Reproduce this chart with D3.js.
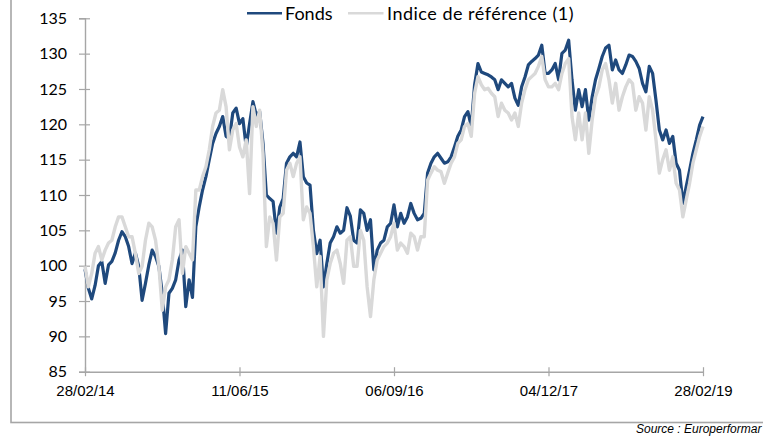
<!DOCTYPE html>
<html>
<head>
<meta charset="utf-8">
<script src="https://cdnjs.cloudflare.com/ajax/libs/d3/7.8.5/d3.min.js"></script>
<style>
    body { margin: 0; background: #fff; }
    svg { display: block; }
</style>
</head>
<body>
<svg width="763" height="438"></svg>
<script>
// values, one point every ~3.4px (about a week)
var fonds = [
    99.5, 96.8, 95.3, 97.2, 100.0, 100.6, 97.5, 100.1, 100.6, 101.8,
    103.6, 104.8, 104.1, 102.7, 100.3, 101.8, 99.9, 95.1, 97.5, 100.1,
    102.2, 101.3, 99.9, 96.1, 90.4, 96.1, 96.8, 98.0, 100.8, 102.2,
    94.2, 98.0, 95.5, 105.5, 108.3, 110.7, 112.6, 115.0, 117.3, 118.7,
    119.7, 121.1, 118.3, 118.0, 121.6, 122.3, 120.1,
    120.8, 116.8, 120.1, 123.2, 121.3, 121.8, 117.3, 110.0, 109.5, 109.1,
    104.6, 108.3, 109.5, 114.5, 115.4, 115.9, 115.4, 117.5, 112.6, 111.7,
    111.4, 105.0, 101.7, 103.6, 97.0, 100.3, 103.2, 104.1, 105.5, 104.6,
    105.0, 108.2, 107.0, 103.6, 103.2, 107.9, 107.4, 105.0, 106.5, 99.4,
    102.2, 103.2, 103.6, 105.5, 106.0, 108.6,
    105.5, 107.4, 106.0, 106.9, 108.8, 107.4, 106.5, 106.7, 107.4, 113.1,
    114.5, 115.4, 115.9, 115.2, 114.5, 114.7, 115.4, 116.8, 118.3, 119.2,
    121.1, 121.8, 119.7, 125.6, 128.6, 127.4, 127.2, 127.0, 126.7, 126.3,
    124.9, 126.3, 125.8, 125.3, 125.8, 123.7, 122.7, 125.3, 126.7, 128.4,
    128.9, 129.3, 129.8, 131.2, 127.2, 127.2,
    127.7, 128.6, 126.3, 130.05, 130.5, 131.9, 126.3, 122.0, 124.9, 122.5,
    124.9, 120.6, 123.9, 126.3, 127.9, 129.6, 130.8, 131.2, 127.7, 129.1,
    127.7, 127.2, 128.4, 129.8, 129.6, 128.9, 127.9, 125.8, 124.6, 128.2,
    127.2, 123.4, 119.2, 117.8, 119.2, 117.3, 118.3, 114.5, 113.5, 108.8,
    111.2, 113.5, 115.9, 117.8, 119.9, 121.1
];

var indice = [
    99.9, 97.0, 98.9, 101.75, 102.7, 100.8, 102.2, 103.2, 103.6, 105.5,
    106.9, 106.9, 105.5, 104.1, 104.1, 101.75, 98.9, 99.9, 103.6, 106.0,
    105.5, 103.6, 99.9, 93.7, 97.0, 98.0, 100.8, 105.5, 106.5, 98.9,
    102.7, 101.75, 100.8, 110.7, 110.7, 112.6, 114.0, 116.4, 119.7, 121.6,
    122.0, 124.9, 122.5, 116.4, 119.2, 120.1, 116.8,
    115.4, 117.8, 110.2, 122.5, 119.7, 122.0, 115.9, 102.7, 106.9, 106.0,
    100.8, 106.9, 107.4, 113.5, 114.5, 112.6, 114.5, 115.4, 106.5, 108.3,
    107.4, 102.7, 97.0, 101.3, 90.0, 98.0, 100.3, 101.75, 102.2, 100.3,
    97.5, 103.6, 104.1, 99.9, 99.9, 105.0, 103.6, 97.0, 92.8, 98.0,
    100.8, 101.75, 102.7, 103.2, 104.1, 106.0,
    102.2, 103.2, 102.7, 101.75, 104.6, 104.1, 102.2, 104.1, 104.1, 112.1,
    113.1, 114.0, 113.5, 113.3, 111.65, 113.1, 114.5, 115.4, 117.3, 117.8,
    119.7, 120.1, 118.3, 124.4, 126.75, 125.6, 124.9, 125.1, 124.4, 123.9,
    121.1, 123.0, 122.0, 121.6, 120.6, 121.6, 119.7, 123.0, 124.9, 126.3,
    126.75, 127.2, 128.2, 129.6, 126.3, 125.3,
    125.3, 125.8, 124.9, 127.2, 128.6, 129.3, 121.1, 117.8, 121.6, 117.8,
    121.6, 115.9, 120.6, 123.9, 125.3, 127.7, 128.6, 126.3, 123.0, 125.8,
    122.0, 123.9, 125.3, 126.3, 125.8, 122.0, 123.9, 123.0, 119.2, 123.9,
    122.0, 117.8, 113.1, 115.0, 116.4, 113.5, 115.4, 111.65, 110.7, 106.9,
    109.3, 111.65, 114.5, 116.4, 118.3, 119.7
];

// date labels sit on these point indices
var tickIndex = [0, 46, 92, 138, 184];
var tickLabels = ["28/02/14", "11/06/15", "06/09/16", "04/12/17", "28/02/19"];

var yTicks = [85, 90, 95, 100, 105, 110, 115, 120, 125, 130, 135];

var seriesNames = ["Fonds", "Indice de référence (1)"];
var seriesColors = ["#1F497D", "#D9D9D9"];

var svg = d3.select("svg"),
    width = +svg.attr("width"),
    height = +svg.attr("height");

var axisColor = "#A6A6A6";

//outer frame, top and right edges fall off the picture
svg.append("rect")
    .attr("x", 11)
    .attr("y", -10)
    .attr("width", width + 10)
    .attr("height", 432.5)
    .attr("fill", "none")
    .attr("stroke", axisColor)
    .attr("stroke-width", 1.6);

var x = d3.scaleLinear()
    .domain([0, fonds.length - 1])
    .range([85, 703]);

var y = d3.scaleLinear()
    .domain([85, 135])
    .range([371.7, 18.3]);

//y axis
var yAxis = svg.append("g")
    .attr("transform", "translate(" + x.range()[0] + ",0)")
    .call(d3.axisLeft(y).tickValues(yTicks).tickSizeOuter(0).tickSize(6).tickPadding(0));

yAxis.select(".domain").attr("stroke", axisColor).attr("stroke-width", 1.4);
yAxis.selectAll(".tick line")
    .attr("x1", -6)
    .attr("x2", 5)
    .attr("stroke", axisColor)
    .attr("stroke-width", 1.2);
yAxis.selectAll(".tick text")
    .attr("x", -18)
    .attr("fill", "#000")
    .style("font-family", "Lato, 'Open Sans', sans-serif")
    .style("font-size", "16px");

//x axis
var xAxis = svg.append("g")
    .attr("transform", "translate(0," + y(85) + ")")
    .call(d3.axisBottom(x)
        .tickValues(tickIndex)
        .tickFormat(function (d, i) { return tickLabels[i]; })
        .tickSizeOuter(0));

xAxis.select(".domain").attr("stroke", axisColor).attr("stroke-width", 1.4);
xAxis.selectAll(".tick line")
    .attr("y1", -4.5)
    .attr("y2", 4.5)
    .attr("stroke", axisColor)
    .attr("stroke-width", 1.2);
xAxis.selectAll(".tick text")
    .attr("y", 24.3)
    .attr("dy", 0)
    .attr("fill", "#000")
    .style("font-family", "'Liberation Sans', Arial, sans-serif")
    .style("font-size", "15px");

//lines, the index is drawn over the fund like the original
var line = d3.line()
    .x(function (d, i) { return x(i); })
    .y(function (d) { return y(d); })
    .curve(d3.curveLinear);

svg.append("path")
    .datum(fonds)
    .attr("fill", "none")
    .attr("stroke", seriesColors[0])
    .attr("stroke-width", 3.2)
    .attr("stroke-linejoin", "round")
    .attr("d", line);

svg.append("path")
    .datum(indice)
    .attr("fill", "none")
    .attr("stroke", seriesColors[1])
    .attr("stroke-width", 3.4)
    .attr("stroke-linejoin", "round")
    .attr("d", line);

//legend at the top
var legendItems = [
    { name: seriesNames[0], color: seriesColors[0], x1: 247, x2: 282, tx: 285, spacing: 0 },
    { name: seriesNames[1], color: seriesColors[1], x1: 348, x2: 383.5, tx: 387, spacing: 0.5 }
];

var legend = svg.append("g").attr("class", "legend");

legend.selectAll("line")
    .data(legendItems)
    .enter().append("line")
    .attr("x1", function (d) { return d.x1; })
    .attr("x2", function (d) { return d.x2; })
    .attr("y1", 13.3)
    .attr("y2", 13.3)
    .attr("stroke", function (d) { return d.color; })
    .attr("stroke-width", 2.5);

legend.selectAll("text")
    .data(legendItems)
    .enter().append("text")
    .attr("x", function (d) { return d.tx; })
    .attr("y", 19.5)
    .attr("fill", "#000")
    .style("font-family", "Lato, 'Open Sans', sans-serif")
    .style("font-size", "18px")
    .style("letter-spacing", function (d) { return d.spacing + "px"; })
    .text(function (d) { return d.name; });

//source note, cut at the right edge as in the picture
svg.append("text")
    .attr("x", 636)
    .attr("y", 433)
    .attr("fill", "#000")
    .style("font-family", "'Liberation Sans', Arial, sans-serif")
    .style("font-style", "italic")
    .style("font-size", "12px")
    .text("Source : Europerformar");
</script>
</body>
</html>
